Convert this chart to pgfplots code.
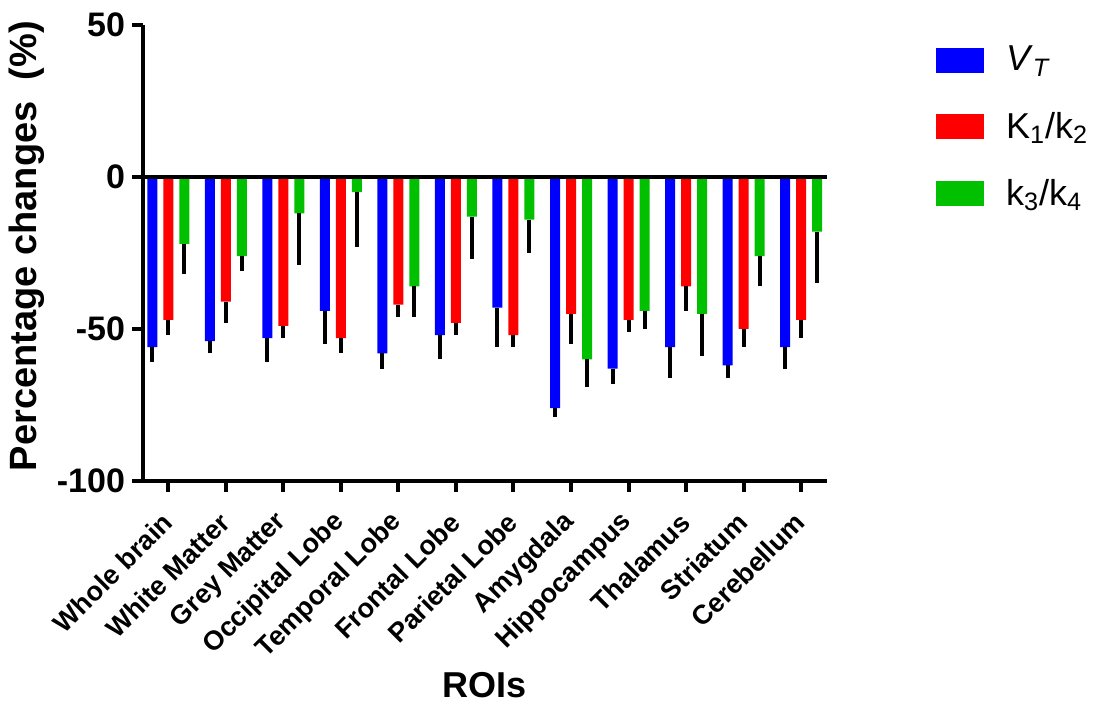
\documentclass[border=0pt]{standalone}
\usepackage{fontspec}
\setmainfont{Liberation Sans}
\usepackage{pgfplots}
\usepackage{pgfplotstable}
\pgfplotsset{compat=1.18}
\definecolor{vtblue}{RGB}{0,0,255}
\definecolor{kred}{RGB}{255,0,0}
\definecolor{kgreen}{RGB}{0,192,0}

\pgfplotstableread{
x v e
0 -56 5
1 -54 4
2 -53 8
3 -44 11
4 -58 5
5 -52 8
6 -43 13
7 -76 3
8 -63 5
9 -56 10
10 -62 4
11 -56 7
}\vt
\pgfplotstableread{
x v e
0 -47 5
1 -41 7
2 -49 4
3 -53 5
4 -42 4
5 -48 4
6 -52 4
7 -45 10
8 -47 4
9 -36 8
10 -50 6
11 -47 6
}\kk
\pgfplotstableread{
x v e
0 -22 10
1 -26 5
2 -12 17
3 -5 18
4 -36 10
5 -13 14
6 -14 11
7 -60 9
8 -44 6
9 -45 14
10 -26 10
11 -18 17
}\kt

\begin{document}
\begin{tikzpicture}
\path[use as bounding box] (-71.5pt,-111.5pt) rectangle (482.5pt,240.5pt);
\begin{axis}[
  at={(0,0)}, anchor=south west,
  scale only axis, width=342pt, height=228pt,
  xmin=-0.44, xmax=11.45, ymin=-100, ymax=50,
  axis lines*=left,
  axis line style={line width=2.2pt},
  ytick={-100,-50,0,50}, yticklabels={-100,-50,0,50},
  xtick={0,...,11},
  xticklabels={Whole brain,White Matter,Grey Matter,Occipital Lobe,Temporal Lobe,Frontal Lobe,Parietal Lobe,Amygdala,Hippocampus,Thalamus,Striatum,Cerebellum},
  tick align=outside, major tick length=5.5pt,
  tick style={line width=2pt, black},
  ybar=3pt, bar width=5pt,
  xticklabel style={xshift=2pt, yshift=-10.5pt, rotate=45, anchor=east, font=\fontsize{13.5}{16}\selectfont\bfseries},
  yticklabel style={font=\fontsize{17}{20}\selectfont\bfseries},
  ylabel={Percentage changes\ \ (\%)},
  ylabel style={font=\fontsize{19}{22}\selectfont\bfseries, at={(axis description cs:-0.170,0.515)}, anchor=center},
  xlabel={ROIs},
  xlabel style={font=\fontsize{18}{21}\selectfont\bfseries, at={(axis description cs:0.499,-0.447)}, anchor=center},
  legend style={draw=none, fill=none, at={(axis description cs:1.150,0.972)}, anchor=north west,
    font=\fontsize{18}{21}\selectfont, row sep=15pt,
    /tikz/every odd column/.append style={column sep=9pt}},
  legend cell align=left,
  legend image code/.code={\fill[#1] (0pt,-6.25pt) rectangle (24pt,6.25pt);},
]
\addplot[fill=vtblue, draw=none, error bars/.cd, y dir=minus, y explicit, error mark=none, error bar style={line width=2pt,black}] table[x=x,y=v,y error=e]{\vt};
\addplot[fill=kred, draw=none, error bars/.cd, y dir=minus, y explicit, error mark=none, error bar style={line width=2pt,black}] table[x=x,y=v,y error=e]{\kk};
\addplot[fill=kgreen, draw=none, error bars/.cd, y dir=minus, y explicit, error mark=none, error bar style={line width=2pt,black}] table[x=x,y=v,y error=e]{\kt};
\legend{\textit{V}\textsubscript{\textit{T}}, K\textsubscript{1}/k\textsubscript{2}, k\textsubscript{3}/k\textsubscript{4}}
\draw[line width=2.2pt] (axis cs:-0.44,0) -- (axis cs:11.45,0);
\end{axis}
\end{tikzpicture}
\end{document}
